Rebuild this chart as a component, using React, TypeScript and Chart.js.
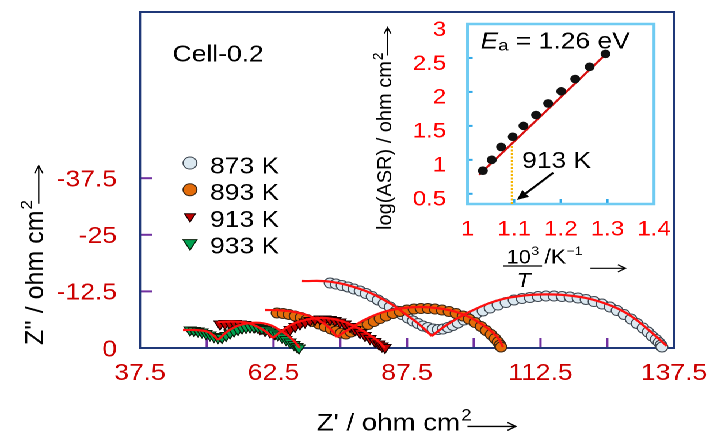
import React, { useEffect, useRef } from 'react';
import { Chart, registerables } from 'chart.js';
import { drawPoint } from 'chart.js/helpers';

Chart.register(...registerables);

// ---------------- main Nyquist plot: axes ----------------
const zReTicks = [37.5, 50, 62.5, 75, 87.5, 100, 112.5, 125, 137.5];
const zReTickLabels = ['37.5', '', '62.5', '', '87.5', '', '112.5', '', '137.5'];
const zImTicks = [0, -12.5, -25, -37.5];
const zImTickLabels = ['0', '-12.5', '-25', '-37.5'];
const zReRange = [37.5, 137.5];
const zImRange = [-74.2, 0];

const temperatures = ['873 K', '893 K', '913 K', '933 K'];
const cellName = 'Cell-0.2';

// ---------------- measured spectra (Z' , Z'') ----------------
const re873 = [73.08, 74.2, 75.33, 76.45, 77.57, 78.7, 79.82, 80.95, 82.07, 83.19, 84.32, 85.44, 86.56, 87.69, 88.62, 89.56, 90.5, 91.43, 92.37, 93.31, 94.24, 95.18, 96.11, 97.05, 98.17, 99.3, 100.42, 101.73, 103.04, 104.54, 106.04, 107.54, 109.04, 110.53, 112.03, 113.53, 115.03, 116.53, 118.02, 119.52, 121.02, 122.52, 124.02, 125.51, 126.83, 128.14, 129.45, 130.57, 131.69, 132.63, 133.38, 134.13, 134.69, 135.07, 135.25];
const im873 = [-14.35, -14.13, -13.8, -13.47, -13.02, -12.58, -12.03, -11.37, -10.6, -9.82, -9.05, -8.17, -7.4, -6.62, -5.96, -5.41, -4.86, -4.53, -4.19, -4.08, -4.19, -4.53, -4.97, -5.52, -6.18, -6.84, -7.51, -8.17, -8.83, -9.49, -10.04, -10.6, -10.93, -11.15, -11.37, -11.48, -11.48, -11.37, -11.26, -11.04, -10.71, -10.26, -9.71, -9.05, -8.28, -7.4, -6.4, -5.41, -4.42, -3.53, -2.65, -1.88, -1.21, -0.66, -0.22];

const re893 = [63.16, 64.28, 65.4, 66.53, 67.65, 68.77, 69.9, 71.02, 72.14, 73.27, 74.2, 75.14, 76.08, 77.01, 77.95, 79.07, 80.2, 81.32, 82.44, 83.57, 84.88, 86.19, 87.5, 88.81, 90.12, 91.43, 92.74, 94.06, 95.37, 96.68, 97.99, 99.11, 100.24, 101.36, 102.3, 103.23, 103.98, 104.54, 104.92, 105.1];
const im893 = [-7.73, -7.62, -7.4, -7.06, -6.73, -6.29, -5.85, -5.3, -4.75, -4.19, -3.75, -3.31, -3.09, -3.53, -3.97, -4.53, -5.19, -5.85, -6.51, -7.06, -7.62, -8.06, -8.39, -8.61, -8.72, -8.72, -8.61, -8.39, -8.06, -7.62, -7.06, -6.4, -5.63, -4.75, -3.86, -2.98, -2.1, -1.32, -0.66, -0.22];

const re913 = [52.48, 53.42, 54.35, 55.29, 56.23, 57.16, 58.1, 59.04, 59.97, 60.91, 61.85, 62.78, 63.72, 64.65, 65.59, 66.53, 67.46, 68.4, 69.34, 70.27, 71.21, 72.14, 73.08, 74.02, 74.95, 75.89, 76.83, 77.76, 78.7, 79.64, 80.57, 81.51, 82.26, 82.82, 83.38];
const im913 = [-5.3, -5.41, -5.41, -5.41, -5.3, -5.19, -4.97, -4.64, -4.3, -3.86, -3.53, -3.2, -3.09, -3.42, -4.08, -4.75, -5.3, -5.74, -6.07, -6.29, -6.4, -6.4, -6.29, -6.07, -5.74, -5.3, -4.75, -4.08, -3.42, -2.76, -2.1, -1.43, -0.88, -0.44, -0.11];

const re933 = [46.86, 47.61, 48.36, 49.11, 49.86, 50.61, 51.36, 52.11, 52.86, 53.61, 54.35, 55.1, 55.85, 56.6, 57.35, 58.1, 58.85, 59.6, 60.35, 61.1, 61.85, 62.59, 63.34, 64.09, 64.84, 65.59, 66.34, 66.9, 67.28];
const im933 = [-3.97, -3.86, -3.75, -3.53, -3.2, -2.87, -2.54, -2.32, -2.32, -2.76, -3.31, -3.75, -4.08, -4.42, -4.53, -4.64, -4.64, -4.53, -4.3, -4.08, -3.75, -3.31, -2.87, -2.43, -1.88, -1.32, -0.77, -0.33, 0];

// ---------------- equivalent-circuit fits (two arcs each) ----------------
const fit873aRe = [67.84, 73.08, 79.26, 84.32, 87.44, 89.93, 92.13];
const fit873aIm = [-14.79, -14.64, -12.8, -9.87, -7.28, -5.08, -2.65];
const fit873bRe = [92.13, 94.93, 98.68, 103.66, 108.66, 113.66, 118.64, 123.64, 128.64, 132.39, 136.13];
const fit873bIm = [-2.65, -5.08, -7.66, -10.22, -11.48, -11.85, -11.48, -10.22, -7.66, -4.35, -0.44];
const fit893aRe = [60.91, 63.72, 66.53, 68.96, 71.21, 73.08, 74.39];
const fit893aIm = [-8.39, -8.32, -7.95, -7.17, -5.96, -4.3, -2.43];
const fit893bRe = [74.39, 76.83, 79.64, 82.82, 86.19, 89.94, 93.68, 97.05, 100.05, 102.67, 104.54, 105.48];
const fit893bIm = [-2.43, -4.3, -6.29, -7.84, -8.72, -9.05, -8.72, -7.84, -6.29, -4.3, -2.21, -0.22];
const fit913aRe = [52.11, 54.73, 57.35, 59.22, 60.91, 62.41];
const fit913aIm = [-5.74, -5.85, -5.63, -4.86, -3.75, -2.21];
const fit913bRe = [62.41, 64.28, 66.53, 69.34, 72.14, 74.95, 77.76, 80.2, 82.07, 83.38];
const fit913bIm = [-2.21, -3.97, -5.52, -6.4, -6.62, -6.07, -4.75, -3.09, -1.55, 0];
const fit933aRe = [45.55, 47.8, 50.05, 51.17, 52.11];
const fit933aIm = [-3.97, -3.97, -3.64, -2.87, -1.77];
const fit933bRe = [52.11, 53.98, 56.23, 59.22, 61.85, 64.09, 65.96, 67.46];
const fit933bIm = [-1.77, -3.75, -5.08, -5.59, -5.08, -3.64, -1.99, 0];

// ---------------- inset: Arrhenius plot ----------------
const invTTicks = [1, 1.1, 1.2, 1.3, 1.4];
const invTTickLabels = ['1', '1.1', '1.2', '1.3', '1.4'];
const logAsrTicks = [0.5, 1, 1.5, 2, 2.5, 3];
const logAsrTickLabels = ['0.5', '1', '1.5', '2', '2.5', '3'];
const invTRange = [1.0, 1.4];
const logAsrRange = [0.35, 3.0];
const invT = [1.033, 1.052, 1.072, 1.097, 1.12, 1.147, 1.173, 1.201, 1.231, 1.262, 1.296];
const logAsr = [0.84, 1.0, 1.19, 1.34, 1.5, 1.66, 1.83, 2.01, 2.19, 2.37, 2.56];
const fitInvT = [1.025, 1.302];
const fitLogAsr = [0.78, 2.59];
const markedTemp = 913;
const markedLogAsrTop = 1.26;
const activationEnergy = '1.26';

// annotation anchors (data coordinates)
const cellLabelAt = { x: 43.6, y: -63.3 };
const legendAt = { markerX: 46.86, textX: 50.6, firstRowY: -40.4 };
const eaAt = { x: 1.028, y: 2.64 };
const markLabelAt = { x: 1.117, y: 0.88 };
const markArrow = { x1: 1.184, y1: 0.81, x2: 1.106, y2: 0.41 };

// ---------------- layout / style ----------------
const CW = 617;
const CH = 435;
const S = 710 / CW; // horizontal stretch of the original figure
const FAMILY = '"Liberation Sans", Arial, Helvetica, sans-serif';
const fnt = (size: number, style = '') => `${style ? style + ' ' : ''}${size}px ${FAMILY}`;

const pts = (xs: number[], ys: number[]) => xs.map((x, i) => ({ x, y: ys[i] }));

const noPad = (s: any) => {
  s.paddingTop = 0;
  s.paddingBottom = 0;
  s.paddingLeft = 0;
  s.paddingRight = 0;
};

function openArrow(ctx: CanvasRenderingContext2D, x1: number, y: number, x2: number, head: number) {
  ctx.beginPath();
  ctx.moveTo(x1, y);
  ctx.lineTo(x2, y);
  ctx.moveTo(x2 - head, y - head * 0.55);
  ctx.lineTo(x2, y);
  ctx.lineTo(x2 - head, y + head * 0.55);
  ctx.stroke();
}

function unitWidth(ctx: CanvasRenderingContext2D, main: string, sup: string, size: number, arrowLen: number) {
  ctx.font = fnt(size);
  const w = ctx.measureText(main).width;
  ctx.font = fnt(size * 0.68);
  const sw = ctx.measureText(sup).width;
  return w + 1 + sw * 0.6 + arrowLen;
}

// draws "main" + superscript + long arrow, baseline-left at local origin
function unitLabel(ctx: CanvasRenderingContext2D, main: string, sup: string, size: number, arrowLen: number) {
  ctx.fillStyle = '#000';
  ctx.strokeStyle = '#000';
  ctx.textAlign = 'left';
  ctx.textBaseline = 'alphabetic';
  ctx.font = fnt(size);
  ctx.fillText(main, 0, 0);
  const w = ctx.measureText(main).width;
  ctx.font = fnt(size * 0.68);
  ctx.fillText(sup, w + 1, -size * 0.42);
  const sw = ctx.measureText(sup).width;
  ctx.lineWidth = 1.3;
  const ax = w + 1 + sw * 0.6;
  openArrow(ctx, ax, -size * 0.17, ax + arrowLen, size * 0.3);
}

const legendRadii = [6, 6, 5.5, 7];

const mainDecor = {
  id: 'mainDecor',
  beforeDatasetsDraw(chart: any) {
    const { ctx, chartArea: a, scales } = chart;
    const xs = scales.x;
    const ys = scales.y;
    ctx.save();
    ctx.strokeStyle = '#7030a0';
    ctx.lineWidth = 2;
    xs.ticks.forEach((t: any, i: number) => {
      if (i === 0 || i === xs.ticks.length - 1) return;
      const px = xs.getPixelForValue(t.value);
      ctx.beginPath();
      ctx.moveTo(px, a.bottom);
      ctx.lineTo(px, a.bottom - 10);
      ctx.stroke();
    });
    ys.ticks.forEach((t: any) => {
      if (t.value === 0) return;
      const py = ys.getPixelForValue(t.value);
      ctx.beginPath();
      ctx.moveTo(a.left, py);
      ctx.lineTo(a.left + 10.5, py);
      ctx.stroke();
    });
    ctx.strokeStyle = '#1f3878';
    ctx.lineWidth = 2;
    ctx.strokeRect(a.left, a.top, a.right - a.left, a.bottom - a.top);
    ctx.restore();
  },
  afterDraw(chart: any) {
    const { ctx, chartArea: a, scales } = chart;
    const xs = scales.x;
    const ys = scales.y;
    ctx.save();
    // cell label
    ctx.fillStyle = '#000';
    ctx.font = fnt(23);
    ctx.textAlign = 'left';
    ctx.textBaseline = 'alphabetic';
    ctx.fillText(cellName, xs.getPixelForValue(cellLabelAt.x), ys.getPixelForValue(cellLabelAt.y));
    // legend
    const mx = xs.getPixelForValue(legendAt.markerX);
    const tx = xs.getPixelForValue(legendAt.textX);
    const y0 = ys.getPixelForValue(legendAt.firstRowY);
    temperatures.forEach((label, i) => {
      const ds: any = chart.data.datasets[i];
      const cy = y0 + i * 26.7;
      ctx.fillStyle = ds.backgroundColor;
      ctx.strokeStyle = ds.borderColor;
      ctx.lineWidth = 1;
      drawPoint(ctx, { pointStyle: ds.pointStyle, rotation: ds.pointRotation || 0, radius: legendRadii[i], borderWidth: 1 } as any, mx, cy - 2);
      ctx.fillStyle = '#000';
      ctx.font = fnt(23);
      ctx.textAlign = 'left';
      ctx.textBaseline = 'alphabetic';
      ctx.fillText(label, tx, cy + 8.3);
    });
    // x title
    const xw = unitWidth(ctx, "Z' / ohm cm", '2', 24, 42);
    ctx.save();
    ctx.translate((a.left + a.right) / 2 + 8 - xw / 2, a.bottom + 82.5);
    unitLabel(ctx, "Z' / ohm cm", '2', 24, 42);
    ctx.restore();
    // y title (rotated, not stretched)
    ctx.save();
    ctx.translate(a.left - 84.3, a.bottom - 3);
    ctx.scale(1 / S, 1);
    ctx.rotate(-Math.PI / 2);
    unitLabel(ctx, "Z'' / ohm cm", '2', 25, 38);
    ctx.restore();
    ctx.restore();
  },
};

const insetDecor = {
  id: 'insetDecor',
  beforeDatasetsDraw(chart: any) {
    const { ctx, chartArea: a, scales } = chart;
    const xs = scales.x;
    const ys = scales.y;
    ctx.save();
    ctx.strokeStyle = '#2fa8e8';
    ctx.lineWidth = 2;
    xs.ticks.forEach((t: any, i: number) => {
      if (i === 0 || i === xs.ticks.length - 1) return;
      const px = xs.getPixelForValue(t.value);
      ctx.beginPath();
      ctx.moveTo(px, a.bottom);
      ctx.lineTo(px, a.bottom - 5);
      ctx.stroke();
    });
    ys.ticks.forEach((t: any, i: number) => {
      if (i === ys.ticks.length - 1) return;
      const py = ys.getPixelForValue(t.value);
      ctx.beginPath();
      ctx.moveTo(a.left, py);
      ctx.lineTo(a.left + 4.5, py);
      ctx.stroke();
    });
    ctx.strokeStyle = '#6fcbf2';
    ctx.lineWidth = 2.5;
    ctx.strokeRect(a.left, a.top, a.right - a.left, a.bottom - a.top);
    ctx.restore();
  },
  afterDraw(chart: any) {
    const { ctx, chartArea: a, scales } = chart;
    const xs = scales.x;
    const ys = scales.y;
    ctx.save();
    ctx.fillStyle = '#000';
    ctx.strokeStyle = '#000';
    ctx.textAlign = 'left';
    ctx.textBaseline = 'alphabetic';
    // Ea = 1.26 eV
    const ex = xs.getPixelForValue(eaAt.x);
    const ey = ys.getPixelForValue(eaAt.y);
    ctx.font = fnt(23, 'italic');
    ctx.fillText('E', ex, ey);
    const wE = ctx.measureText('E').width;
    ctx.font = fnt(16);
    ctx.fillText('a', ex + wE, ey + 2);
    const wa = ctx.measureText('a').width;
    ctx.font = fnt(23);
    ctx.fillText(` = ${activationEnergy} eV`, ex + wE + wa, ey);
    // 913 K pointer
    ctx.fillText(`${markedTemp} K`, xs.getPixelForValue(markLabelAt.x), ys.getPixelForValue(markLabelAt.y));
    const x1 = xs.getPixelForValue(markArrow.x1);
    const y1 = ys.getPixelForValue(markArrow.y1);
    const x2 = xs.getPixelForValue(markArrow.x2);
    const y2 = ys.getPixelForValue(markArrow.y2);
    const ang = Math.atan2(y2 - y1, x2 - x1);
    const hl = 10;
    const hw = 4.5;
    ctx.lineWidth = 2;
    ctx.beginPath();
    ctx.moveTo(x1, y1);
    ctx.lineTo(x2 - Math.cos(ang) * hl * 0.8, y2 - Math.sin(ang) * hl * 0.8);
    ctx.stroke();
    ctx.beginPath();
    ctx.moveTo(x2, y2);
    ctx.lineTo(x2 - Math.cos(ang) * hl - Math.sin(ang) * hw, y2 - Math.sin(ang) * hl + Math.cos(ang) * hw);
    ctx.lineTo(x2 - Math.cos(ang) * hl + Math.sin(ang) * hw, y2 - Math.sin(ang) * hl - Math.cos(ang) * hw);
    ctx.closePath();
    ctx.fill();
    // x title: 10^3 / T  /K^-1  -->
    const cx = a.left + 47.8;
    ctx.font = fnt(19);
    const w10 = ctx.measureText('10').width;
    ctx.font = fnt(12);
    const w3 = ctx.measureText('3').width;
    const gx = cx - (w10 + w3) / 2;
    ctx.font = fnt(19);
    ctx.fillText('10', gx, a.bottom + 59.3);
    ctx.font = fnt(12);
    ctx.fillText('3', gx + w10 + 0.5, a.bottom + 51);
    ctx.lineWidth = 1.2;
    ctx.beginPath();
    ctx.moveTo(cx - 17, a.bottom + 62);
    ctx.lineTo(cx + 17, a.bottom + 62);
    ctx.stroke();
    ctx.font = fnt(20, 'italic');
    ctx.textAlign = 'center';
    ctx.fillText('T', cx + 1, a.bottom + 83);
    ctx.textAlign = 'left';
    ctx.font = fnt(20);
    ctx.fillText('/K', cx + 19, a.bottom + 59.3);
    const wK = ctx.measureText('/K').width;
    ctx.font = fnt(12);
    ctx.fillText('\u22121', cx + 19 + wK + 0.5, a.bottom + 51);
    ctx.lineWidth = 1.2;
    openArrow(ctx, cx + 59, a.bottom + 64.3, cx + 89.4, 6.5);
    // y title (rotated, not stretched)
    ctx.save();
    ctx.translate(a.left - 66.5, a.bottom + 26);
    ctx.scale(1 / S, 1);
    ctx.rotate(-Math.PI / 2);
    unitLabel(ctx, 'log(ASR) / ohm cm', '2', 20, 28);
    ctx.restore();
    ctx.restore();
  },
};

const markerSets = [
  { re: re873, im: im873, style: 'circle', rot: 0, r: 5, fill: '#dbe8f0', edge: '#3d4650', order: 4 },
  { re: re893, im: im893, style: 'circle', rot: 0, r: 5, fill: '#e36c0a', edge: '#3a2614', order: 3 },
  { re: re913, im: im913, style: 'triangle', rot: 180, r: 6, fill: '#c00000', edge: '#1a0000', order: 2 },
  { re: re933, im: im933, style: 'triangle', rot: 180, r: 6, fill: '#00a050', edge: '#0a1e0a', order: 1 },
];
const fitSets = [
  [fit873aRe, fit873aIm], [fit873bRe, fit873bIm],
  [fit893aRe, fit893aIm], [fit893bRe, fit893bIm],
  [fit913aRe, fit913aIm], [fit913bRe, fit913bIm],
  [fit933aRe, fit933aIm], [fit933bRe, fit933bIm],
];

export default function App() {
  const mainRef = useRef<HTMLCanvasElement>(null);
  const insetRef = useRef<HTMLCanvasElement>(null);

  useEffect(() => {
    document.body.style.margin = '0';
    const tickFont = (size: number) => ({ family: FAMILY, size });

    const main = new Chart(mainRef.current as HTMLCanvasElement, {
      type: 'scatter',
      data: {
        datasets: [
          ...markerSets.map((m, i) => ({
            label: temperatures[i],
            data: pts(m.re, m.im),
            pointStyle: m.style,
            pointRotation: m.rot,
            pointRadius: m.r,
            backgroundColor: m.fill,
            borderColor: m.edge,
            borderWidth: 1,
            showLine: false,
            order: m.order,
            clip: false,
          })),
          ...fitSets.map(([xs, ys]) => ({
            label: 'fit',
            data: pts(xs, ys),
            showLine: true,
            pointRadius: 0,
            borderColor: '#ff1010',
            backgroundColor: '#ff1010',
            borderWidth: 2.2,
            tension: 0.4,
            order: 0,
            clip: false,
          })),
        ],
      } as any,
      options: {
        responsive: false,
        devicePixelRatio: 2,
        animation: false,
        events: [],
        layout: { padding: { left: 0, right: CW - 674 / S, top: 12, bottom: 0 } },
        plugins: { legend: { display: false }, tooltip: { enabled: false } },
        scales: {
          x: {
            type: 'linear',
            min: zReRange[0],
            max: zReRange[1],
            afterBuildTicks: (s: any) => { s.ticks = zReTicks.map((v) => ({ value: v })); },
            afterFit: (s: any) => { s.height = CH - 348; noPad(s); },
            grid: { display: false, drawTicks: false },
            border: { display: false },
            ticks: {
              autoSkip: false,
              maxRotation: 0,
              minRotation: 0,
              padding: 12,
              color: '#cc0000',
              font: tickFont(23),
              callback: (_v: any, i: number) => zReTickLabels[i] ?? '',
            },
          },
          y: {
            type: 'linear',
            reverse: true,
            min: zImRange[0],
            max: zImRange[1],
            afterBuildTicks: (s: any) => { s.ticks = zImTicks.map((v) => ({ value: v })); },
            afterFit: (s: any) => { s.width = 140 / S; noPad(s); },
            grid: { display: false, drawTicks: false },
            border: { display: false },
            ticks: {
              autoSkip: false,
              padding: 20,
              labelOffset: 2,
              color: '#cc0000',
              font: tickFont(23),
              callback: (_v: any, i: number) => zImTickLabels[i] ?? '',
            },
          },
        },
      } as any,
      plugins: [mainDecor],
    });

    const inset = new Chart(insetRef.current as HTMLCanvasElement, {
      type: 'scatter',
      data: {
        datasets: [
          {
            label: 'log(ASR)',
            data: pts(invT, logAsr),
            pointStyle: 'circle',
            pointRadius: 4.3,
            backgroundColor: '#111111',
            borderColor: '#000000',
            borderWidth: 0,
            showLine: false,
            order: 0,
            clip: false,
          },
          {
            label: 'Arrhenius fit',
            data: pts(fitInvT, fitLogAsr),
            showLine: true,
            pointRadius: 0,
            borderColor: '#d81010',
            borderWidth: 2,
            order: 1,
            clip: false,
          },
          {
            label: `${markedTemp} K`,
            data: [
              { x: 1000 / markedTemp, y: logAsrRange[0] },
              { x: 1000 / markedTemp, y: markedLogAsrTop },
            ],
            showLine: true,
            pointRadius: 0,
            borderColor: '#f5b400',
            borderWidth: 2,
            borderDash: [2, 1.5],
            order: 2,
            clip: false,
          },
        ],
      } as any,
      options: {
        responsive: false,
        devicePixelRatio: 2,
        animation: false,
        events: [],
        layout: { padding: { left: 0, right: CW - 654 / S, top: 24, bottom: 0 } },
        plugins: { legend: { display: false }, tooltip: { enabled: false } },
        scales: {
          x: {
            type: 'linear',
            min: invTRange[0],
            max: invTRange[1],
            afterBuildTicks: (s: any) => { s.ticks = invTTicks.map((v) => ({ value: v })); },
            afterFit: (s: any) => { s.height = CH - 204; noPad(s); },
            grid: { display: false, drawTicks: false },
            border: { display: false },
            ticks: {
              autoSkip: false,
              maxRotation: 0,
              minRotation: 0,
              padding: 13,
              color: '#ff0000',
              font: tickFont(21),
              callback: (_v: any, i: number) => invTTickLabels[i] ?? '',
            },
          },
          y: {
            type: 'linear',
            min: logAsrRange[0],
            max: logAsrRange[1],
            afterBuildTicks: (s: any) => { s.ticks = logAsrTicks.map((v) => ({ value: v })); },
            afterFit: (s: any) => { s.width = 467.5 / S; noPad(s); },
            grid: { display: false, drawTicks: false },
            border: { display: false },
            ticks: {
              autoSkip: false,
              padding: 18.5,
              labelOffset: 6,
              color: '#ff0000',
              font: tickFont(21),
              callback: (_v: any, i: number) => logAsrTickLabels[i] ?? '',
            },
          },
        },
      } as any,
      plugins: [insetDecor],
    });

    return () => {
      main.destroy();
      inset.destroy();
    };
  }, []);

  return (
    <div style={{ position: 'relative', width: 710, height: CH, overflow: 'hidden', background: '#ffffff' }}>
      <div
        style={{
          position: 'absolute',
          left: 0,
          top: 0,
          width: CW,
          height: CH,
          transform: `scaleX(${S})`,
          transformOrigin: '0 0',
        }}
      >
        <canvas ref={mainRef} width={CW} height={CH} style={{ position: 'absolute', left: 0, top: 0 }} />
        <canvas ref={insetRef} width={CW} height={CH} style={{ position: 'absolute', left: 0, top: 0 }} />
      </div>
    </div>
  );
}
